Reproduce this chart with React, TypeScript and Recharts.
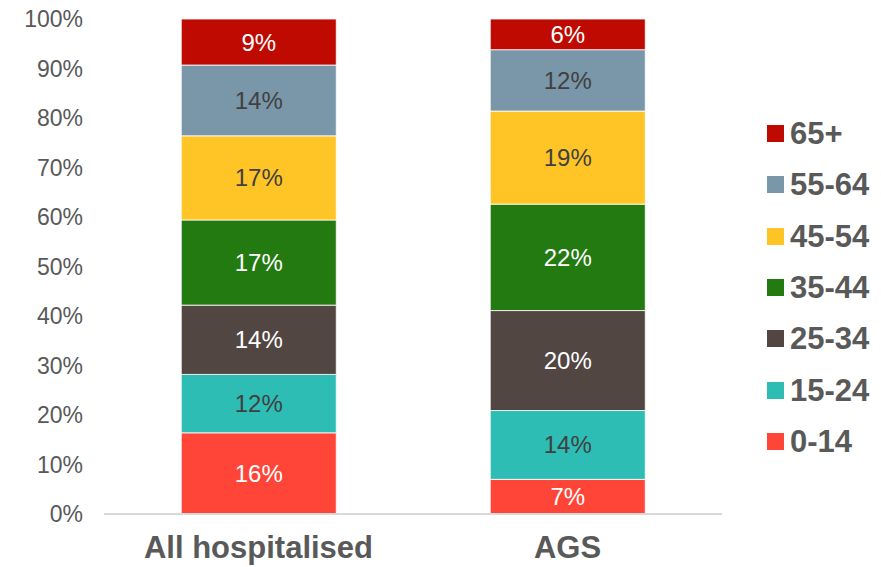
import React from "react";
import { BarChart, Bar, XAxis, YAxis, LabelList } from "recharts";

const categories = ["All hospitalised", "AGS"];
const ageGroups = ["0-14", "15-24", "25-34", "35-44", "45-54", "55-64", "65+"];
const allHospitalised = [16.4, 11.8, 14.0, 17.2, 17.0, 14.3, 9.3];
const ags = [7.0, 13.9, 20.2, 21.5, 18.8, 12.4, 6.2];
const yTicks = [0, 10, 20, 30, 40, 50, 60, 70, 80, 90, 100];

const COLORS = ["#FF4538", "#2EBDB5", "#524642", "#237A11", "#FFC526", "#7A96A9", "#BE0A00"];
const LABEL_COLORS = ["#ffffff", "#404040", "#ffffff", "#ffffff", "#404040", "#404040", "#ffffff"];

const FONT = "'Liberation Sans', Arial, sans-serif";
const TEXT = "#595959";

const data = categories.map((name, ci) => {
  const vals = ci === 0 ? allHospitalised : ags;
  const row: Record<string, string | number> = { name };
  ageGroups.forEach((g, i) => {
    row[g] = vals[i];
  });
  return row;
});

function LegendBox() {
  return (
    <div style={{ position: "absolute", left: 767, top: 108, fontFamily: FONT }}>
      {[...ageGroups].reverse().map((g) => {
        const i = ageGroups.indexOf(g);
        return (
          <div key={g} style={{ display: "flex", alignItems: "center", height: 51.3 }}>
            <div style={{ width: 17, height: 17, background: COLORS[i], marginRight: 6 }} />
            <span style={{ fontSize: 31, fontWeight: "bold", color: TEXT, lineHeight: 1 }}>{g}</span>
          </div>
        );
      })}
    </div>
  );
}

export default function App() {
  return (
    <div style={{ position: "absolute", left: 0, top: 0, width: 881, height: 567 }}>
      <BarChart
        width={881}
        height={567}
        data={data}
        margin={{ top: 19, right: 159, bottom: 0, left: 0 }}
        barCategoryGap="25%"
      >
        <XAxis
          dataKey="name"
          height={53}
          tickLine={false}
          axisLine={{ stroke: "#D9D9D9", strokeWidth: 2 }}
          tickMargin={16}
          tick={{ fill: TEXT, fontSize: 31, fontWeight: "bold", fontFamily: FONT }}
        />
        <YAxis
          width={104}
          domain={[0, 100]}
          ticks={yTicks}
          interval={0}
          axisLine={false}
          tickLine={false}
          tickMargin={15}
          tickFormatter={(v: number) => `${v}%`}
          tick={{ fill: TEXT, fontSize: 23, fontFamily: FONT }}
        />
        {ageGroups.map((g, i) => (
          <Bar
            key={g}
            dataKey={g}
            stackId="a"
            fill={COLORS[i]}
            stroke="#ffffff"
            strokeWidth={0.8}
            isAnimationActive={false}
          >
            <LabelList
              dataKey={g}
              position="center"
              formatter={(v: number) => `${Math.round(v)}%`}
              style={{ fill: LABEL_COLORS[i], fontSize: 24, fontFamily: FONT }}
            />
          </Bar>
        ))}
      </BarChart>
      <LegendBox />
    </div>
  );
}
